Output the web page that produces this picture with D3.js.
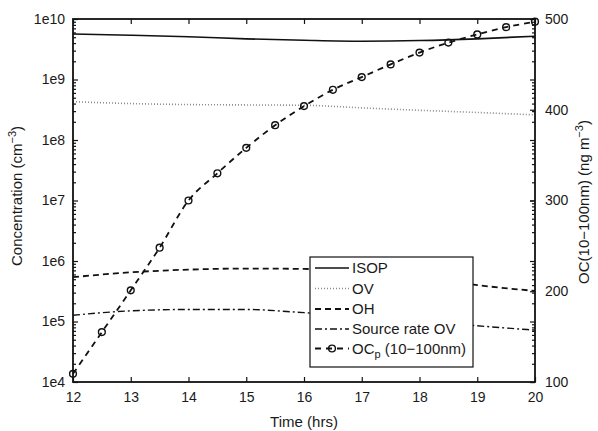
<!DOCTYPE html>
<html>
<head>
<meta charset="utf-8">
<script src="https://cdn.jsdelivr.net/npm/d3@7"></script>
<style>
  body { margin: 0; background: #fff; }
  svg { display: block; font-family: "Liberation Sans", Arial, Helvetica, sans-serif; }
</style>
</head>
<body>
<svg id="chart" width="598" height="431"></svg>
<script>
// ---- data ----
const hours = [12, 13, 14, 15, 16, 17, 18, 19, 20];
const isop = [5.65e9, 5.4e9, 5.1e9, 4.7e9, 4.45e9, 4.3e9, 4.4e9, 4.7e9, 5.2e9];
const ov = [4.3e8, 4.0e8, 3.85e8, 3.8e8, 3.75e8, 3.4e8, 3.1e8, 2.85e8, 2.6e8];
const oh = [5.4e5, 6.5e5, 7.2e5, 7.5e5, 7.4e5, 6.8e5, 5.5e5, 4.0e5, 3.2e5];
const sourceOV = [1.27e5, 1.5e5, 1.58e5, 1.58e5, 1.4e5, 1.22e5, 1.03e5, 8.5e4, 7.2e4];
const ocHours = [12, 12.5, 13, 13.5, 14, 14.5, 15, 15.5, 16, 16.5, 17, 17.5, 18, 18.5, 19, 19.5, 20];
const ocp = [109, 155, 201, 248, 300, 330, 358, 383, 404, 422, 436, 450, 463, 474, 483, 491, 497];
const xTicks = [12, 13, 14, 15, 16, 17, 18, 19, 20];
const yTicks = [1e4, 1e5, 1e6, 1e7, 1e8, 1e9, 1e10];
const yRTicks = [100, 200, 300, 400, 500];
const legendLabels = ["ISOP", "OV", "OH", "Source rate OV", "OC_p"];

// ---- layout ----
const svg = d3.select("#chart");
const L = 73, R = 535, T = 19, B = 382;
const x = d3.scaleLinear().domain([12, 20]).range([L, R]);
const y = d3.scaleLog().domain([1e4, 1e10]).range([B, T]);
const yR = d3.scaleLinear().domain([100, 500]).range([B, T]);

const minorTicks = [];
for (let e = 4; e < 10; e++) for (let k = 2; k <= 9; k++) minorTicks.push(k * Math.pow(10, e));

const txtColor = "#1a1a1a";
const fsTick = 14, fsLab = 15;

function styleAxis(g) {
  g.select(".domain").remove();
  g.selectAll(".tick line").attr("stroke", "#111").attr("stroke-width", 1.2);
  g.selectAll(".tick text").attr("fill", txtColor).attr("font-size", fsTick).attr("font-family", "Liberation Sans, Arial, sans-serif");
}

// plot lines (clipped)
svg.append("clipPath").attr("id", "clip").append("rect")
  .attr("x", L).attr("y", T - 6).attr("width", R - L + 6).attr("height", B - T + 6);
const plot = svg.append("g").attr("clip-path", "url(#clip)");

const lineC = d3.line().x((d, i) => x(hours[i])).y(d => y(d)).curve(d3.curveMonotoneX);
plot.append("path").datum(isop).attr("d", lineC).attr("fill", "none").attr("stroke", "#111").attr("stroke-width", 1.6);
plot.append("path").datum(ov).attr("d", lineC).attr("fill", "none").attr("stroke", "#8a8a8a").attr("stroke-width", 1.6).attr("stroke-dasharray", "1,2");
plot.append("path").datum(oh).attr("d", lineC).attr("fill", "none").attr("stroke", "#111").attr("stroke-width", 1.8).attr("stroke-dasharray", "6,4");
plot.append("path").datum(sourceOV).attr("d", lineC).attr("fill", "none").attr("stroke", "#111").attr("stroke-width", 1.4).attr("stroke-dasharray", "7,3,2,3");

const lineOC = d3.line().x((d, i) => x(ocHours[i])).y(d => yR(d)).curve(d3.curveMonotoneX);
plot.append("path").datum(ocp).attr("d", lineOC).attr("fill", "none").attr("stroke", "#111").attr("stroke-width", 1.8).attr("stroke-dasharray", "6,5");
svg.append("g").selectAll("circle").data(ocp).join("circle")
  .attr("cx", (d, i) => x(ocHours[i])).attr("cy", d => yR(d)).attr("r", 3.4)
  .attr("fill", "none").attr("stroke", "#111").attr("stroke-width", 1.4);

// axes
const gxB = svg.append("g").attr("transform", `translate(0,${B})`)
  .call(d3.axisBottom(x).tickValues(xTicks).tickFormat(d3.format("d")).tickSizeInner(-5).tickSizeOuter(0).tickPadding(10));
styleAxis(gxB);
const gxT = svg.append("g").attr("transform", `translate(0,${T})`)
  .call(d3.axisTop(x).tickValues(xTicks).tickFormat("").tickSizeInner(-5).tickSizeOuter(0));
styleAxis(gxT);

const gyL = svg.append("g").attr("transform", `translate(${L},0)`)
  .call(d3.axisLeft(y).tickValues(yTicks).tickFormat(d => "1e" + Math.round(Math.log10(d))).tickSizeInner(-5).tickSizeOuter(0).tickPadding(8));
styleAxis(gyL);
const gyLm = svg.append("g").attr("transform", `translate(${L},0)`)
  .call(d3.axisLeft(y).tickValues(minorTicks).tickFormat("").tickSizeInner(-3).tickSizeOuter(0));
styleAxis(gyLm);
const gyRm = svg.append("g").attr("transform", `translate(${R},0)`)
  .call(d3.axisRight(y).tickValues(minorTicks).tickFormat("").tickSizeInner(-3).tickSizeOuter(0));
styleAxis(gyRm);
const gyRl = svg.append("g").attr("transform", `translate(${R},0)`)
  .call(d3.axisRight(y).tickValues(yTicks).tickFormat("").tickSizeInner(-5).tickSizeOuter(0));
styleAxis(gyRl);
const gyR = svg.append("g").attr("transform", `translate(${R},0)`)
  .call(d3.axisRight(yR).tickValues(yRTicks).tickFormat(d3.format("d")).tickSizeInner(-5).tickSizeOuter(0).tickPadding(10));
styleAxis(gyR);

// frame
svg.append("rect").attr("x", L).attr("y", T).attr("width", R - L).attr("height", B - T)
  .attr("fill", "none").attr("stroke", "#111").attr("stroke-width", 1.8);

// axis labels
svg.append("text").attr("x", (L + R) / 2).attr("y", 427).attr("text-anchor", "middle")
  .attr("font-size", fsLab).attr("fill", txtColor).text("Time (hrs)");

const ylab = svg.append("text").attr("transform", "translate(22,196) rotate(-90)")
  .attr("text-anchor", "middle").attr("font-size", fsLab).attr("fill", txtColor);
ylab.append("tspan").text("Concentration (cm");
ylab.append("tspan").attr("font-size", 11).attr("dy", -6).text("−3");
ylab.append("tspan").attr("dy", 6).text(")");

const yrlab = svg.append("text").attr("transform", "translate(589,202) rotate(-90)")
  .attr("text-anchor", "middle").attr("font-size", fsLab).attr("fill", txtColor);
yrlab.append("tspan").text("OC(10−100nm) (ng m");
yrlab.append("tspan").attr("font-size", 11).attr("dy", -6).text("−3");
yrlab.append("tspan").attr("dy", 6).text(")");

// legend
const lg = svg.append("g");
lg.append("rect").attr("x", 310).attr("y", 257).attr("width", 163).attr("height", 110)
  .attr("fill", "#fff").attr("stroke", "#111").attr("stroke-width", 1.2);
const rows = [268, 288.5, 309, 329, 348.5];
const styles = [
  { stroke: "#111", dash: null, w: 1.6 },
  { stroke: "#8a8a8a", dash: "1,2", w: 1.6 },
  { stroke: "#111", dash: "6,4", w: 1.8 },
  { stroke: "#111", dash: "7,3,2,3", w: 1.4 },
  { stroke: "#111", dash: "6,5", w: 1.8 }
];
legendLabels.forEach((lab, i) => {
  const s = styles[i];
  const ln = lg.append("line").attr("x1", 315).attr("x2", 349).attr("y1", rows[i]).attr("y2", rows[i])
    .attr("stroke", s.stroke).attr("stroke-width", s.w);
  if (s.dash) ln.attr("stroke-dasharray", s.dash);
  if (i === 4) {
    ln.attr("stroke-dashoffset", 0);
    lg.append("circle").attr("cx", 332).attr("cy", rows[i]).attr("r", 3.4).attr("fill", "none").attr("stroke", "#111").attr("stroke-width", 1.4);
  }
  const t = lg.append("text").attr("x", 352).attr("y", rows[i] + 5).attr("font-size", fsLab).attr("fill", txtColor);
  if (lab === "OC_p") {
    t.append("tspan").text("OC");
    t.append("tspan").attr("font-size", 11).attr("dy", 4).text("p");
    t.append("tspan").attr("dy", -4).text(" (10−100nm)");
  } else {
    t.text(lab);
  }
});
</script>
</body>
</html>
